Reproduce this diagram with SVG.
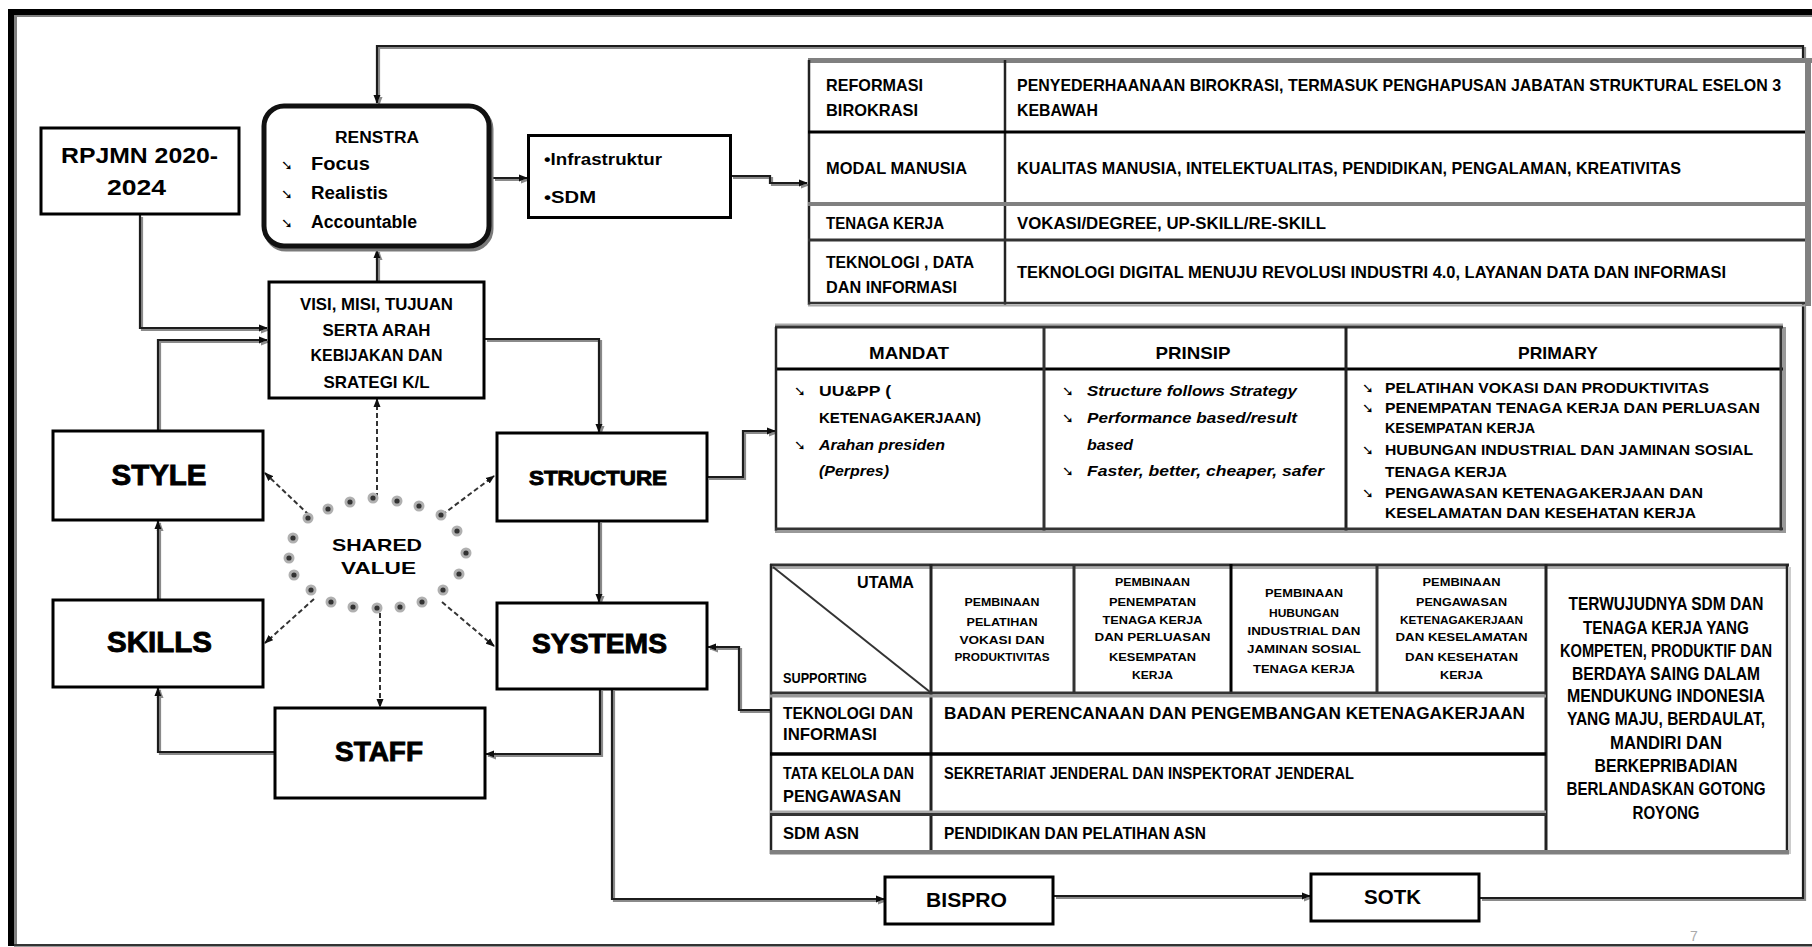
<svg xmlns="http://www.w3.org/2000/svg" xmlns:xlink="http://www.w3.org/1999/xlink" width="1812" height="947" viewBox="0 0 1812 947">
<defs>
<style>
.t{font-family:"Liberation Sans",Arial,sans-serif;font-weight:bold;fill:#000}
.i{font-style:italic}
.m{text-anchor:middle}
.h{stroke:#000;stroke-width:0.9}
.b{font-family:"DejaVu Sans",sans-serif;font-weight:bold;font-size:14px;fill:#000}
.box{fill:#fff;stroke:#000;stroke-width:3}
.ln{fill:none;stroke:#1a1a1a;stroke-width:2.2}
.ds{fill:none;stroke:#333;stroke-width:2;stroke-dasharray:5 3}
.tk{stroke:#222;stroke-width:2.5}
.gr{fill:#808080}
</style>
<marker id="ah" markerWidth="9" markerHeight="8" refX="8" refY="4" orient="auto" markerUnits="userSpaceOnUse"><path d="M0,0.5 L9,4 L0,7.5 z" fill="#111"/></marker>
<filter id="sh" filterUnits="userSpaceOnUse" x="0" y="0" width="1812" height="947"><feOffset in="SourceAlpha" dx="1.5" dy="2" result="o"/><feFlood flood-color="#8a8a8a"/><feComposite in2="o" operator="in" result="s"/><feMerge><feMergeNode in="s"/><feMergeNode in="SourceGraphic"/></feMerge></filter>
<g id="dot"><circle r="5.5" fill="#b0b0b0"/><circle r="2.6" fill="#333"/></g>
</defs>
<rect width="1812" height="947" fill="#fff"/>
<!-- frame -->
<g id="frame">
<rect x="8" y="9" width="1804" height="6" fill="#000"/>
<rect x="14" y="15" width="1798" height="2" fill="#808080"/>
<rect x="8" y="9" width="6" height="937" fill="#000"/>
<rect x="14" y="15" width="3" height="931" fill="#808080"/>
<rect x="14" y="944" width="1798" height="2.5" fill="#333"/>
</g>

<!-- connectors -->
<g id="connectors">
<g filter="url(#sh)">
<path class="ln" d="M140,215 V328 H267" marker-end="url(#ah)"/>
<path class="ln" d="M158,430 V340 H267" marker-end="url(#ah)"/>
<path class="ln" d="M377,282 V250" marker-end="url(#ah)"/>
<path class="ln" d="M485,339 H599 V432" marker-end="url(#ah)"/>
<path class="ln" d="M493,178 H527" marker-end="url(#ah)"/>
<path class="ln" d="M731,176 H770 V183 H807" marker-end="url(#ah)"/>
<path class="ln" d="M1480,898 H1803 V46 H377 V103" marker-end="url(#ah)"/>
<path class="ln" d="M707,477 H743 V431 H775" marker-end="url(#ah)"/>
<path class="ln" d="M599,521 V602" marker-end="url(#ah)"/>
<path class="ln" d="M600,689 V754 H486" marker-end="url(#ah)"/>
<path class="ln" d="M274,752 H158 V688" marker-end="url(#ah)"/>
<path class="ln" d="M158,599 V521" marker-end="url(#ah)"/>
<path class="ln" d="M770,710 H739 V647 H708" marker-end="url(#ah)"/>
<path class="ln" d="M612,689 V899 H884" marker-end="url(#ah)"/>
<path class="ln" d="M1054,896 H1310" marker-end="url(#ah)"/>
</g>
<g>
<path class="ds" d="M377,498 V399" marker-end="url(#ah)"/>
<path class="ds" d="M380,613 V707" marker-end="url(#ah)"/>
<path class="ds" d="M309,515 L265,473" marker-end="url(#ah)"/>
<path class="ds" d="M442,515 L494,476" marker-end="url(#ah)"/>
<path class="ds" d="M314,599 L265,643" marker-end="url(#ah)"/>
<path class="ds" d="M442,602 L494,646" marker-end="url(#ah)"/>
</g>
</g>

<!-- RPJMN -->
<g id="rpjmn">
<rect class="box" x="41" y="128" width="198" height="86"/>
<text class="t m" x="139.5" y="163" font-size="22" textLength="157" lengthAdjust="spacingAndGlyphs">RPJMN 2020-</text>
<text class="t m" x="136.5" y="195" font-size="22" textLength="59" lengthAdjust="spacingAndGlyphs">2024</text>
</g>

<!-- RENSTRA -->
<g id="renstra">
<rect x="266" y="109" width="225" height="140" rx="20" fill="none" stroke="#7a7a7a" stroke-width="5"/>
<rect x="264" y="106" width="225" height="140" rx="20" fill="#fff" stroke="#111" stroke-width="5"/>
<text class="t m" x="377" y="143" font-size="16" textLength="84" lengthAdjust="spacingAndGlyphs">RENSTRA</text>
<text class="b" x="281" y="170">➘</text>
<text class="t" x="311" y="170" font-size="18" textLength="59" lengthAdjust="spacingAndGlyphs">Focus</text>
<text class="b" x="281" y="199">➘</text>
<text class="t" x="311" y="199" font-size="18" textLength="77" lengthAdjust="spacingAndGlyphs">Realistis</text>
<text class="b" x="281" y="228">➘</text>
<text class="t" x="311" y="228" font-size="18" textLength="106" lengthAdjust="spacingAndGlyphs">Accountable</text>
</g>

<!-- Infrastruktur -->
<g id="infra">
<rect class="box" x="528.5" y="135.5" width="202" height="82"/>
<text class="t" x="544" y="165" font-size="16.5" textLength="118" lengthAdjust="spacingAndGlyphs">•Infrastruktur</text>
<text class="t" x="544" y="203" font-size="16.5" textLength="52" lengthAdjust="spacingAndGlyphs">•SDM</text>
</g>

<!-- VISI -->
<g id="visi">
<rect class="box" x="269" y="282" width="215" height="116"/>
<text class="t m" x="376.5" y="309.5" font-size="17" textLength="153" lengthAdjust="spacingAndGlyphs">VISI, MISI, TUJUAN</text>
<text class="t m" x="376.5" y="335.5" font-size="17" textLength="108" lengthAdjust="spacingAndGlyphs">SERTA  ARAH</text>
<text class="t m" x="376.5" y="360.5" font-size="17" textLength="132" lengthAdjust="spacingAndGlyphs">KEBIJAKAN DAN</text>
<text class="t m" x="376.5" y="387.5" font-size="17" textLength="106" lengthAdjust="spacingAndGlyphs">SRATEGI K/L</text>
</g>

<!-- 7S boxes -->
<g id="style">
<rect class="box" x="53" y="431" width="210" height="89"/>
<text class="t m h" x="159" y="485" font-size="29" textLength="95" lengthAdjust="spacingAndGlyphs">STYLE</text>
</g>
<g id="skills">
<rect class="box" x="53" y="600" width="210" height="87"/>
<text class="t m h" x="159.5" y="652" font-size="29" textLength="105" lengthAdjust="spacingAndGlyphs">SKILLS</text>
</g>
<g id="structure">
<rect class="box" x="497" y="433" width="210" height="88"/>
<text class="t m h" x="598" y="485" font-size="20" textLength="138" lengthAdjust="spacingAndGlyphs">STRUCTURE</text>
</g>
<g id="systems">
<rect class="box" x="497" y="603" width="210" height="86"/>
<text class="t m h" x="599.5" y="653" font-size="27" textLength="135" lengthAdjust="spacingAndGlyphs">SYSTEMS</text>
</g>
<g id="staff">
<rect class="box" x="275" y="708" width="210" height="90"/>
<text class="t m h" x="379" y="761" font-size="28" textLength="88" lengthAdjust="spacingAndGlyphs">STAFF</text>
</g>

<!-- Shared value -->
<g id="shared-value">
<use xlink:href="#dot" x="328" y="509"/>
<use xlink:href="#dot" x="350" y="502"/>
<use xlink:href="#dot" x="373" y="498"/>
<use xlink:href="#dot" x="397" y="501"/>
<use xlink:href="#dot" x="419" y="506"/>
<use xlink:href="#dot" x="441" y="515"/>
<use xlink:href="#dot" x="457" y="531"/>
<use xlink:href="#dot" x="466" y="553"/>
<use xlink:href="#dot" x="459" y="574"/>
<use xlink:href="#dot" x="443" y="590"/>
<use xlink:href="#dot" x="422" y="602"/>
<use xlink:href="#dot" x="400" y="607"/>
<use xlink:href="#dot" x="377" y="608"/>
<use xlink:href="#dot" x="353" y="607"/>
<use xlink:href="#dot" x="331" y="602"/>
<use xlink:href="#dot" x="311" y="590"/>
<use xlink:href="#dot" x="294" y="575"/>
<use xlink:href="#dot" x="289" y="558"/>
<use xlink:href="#dot" x="293" y="538"/>
<use xlink:href="#dot" x="308" y="518"/>
<text class="t m" x="377" y="550.5" font-size="17" textLength="90" lengthAdjust="spacingAndGlyphs">SHARED</text>
<text class="t m" x="378.5" y="573.5" font-size="17" textLength="75" lengthAdjust="spacingAndGlyphs">VALUE</text>
</g>

<!-- Table 1 -->
<g id="table1">
<rect x="808" y="60" width="997" height="244" fill="#fff"/>
<rect class="gr" x="808" y="58" width="1004" height="5"/>
<rect class="gr" x="1805" y="58" width="6" height="248"/>
<line class="tk" x1="809" y1="60" x2="809" y2="305"/>
<line class="tk" x1="1005" y1="60" x2="1005" y2="305"/>
<line x1="808" y1="132" x2="1805" y2="132" stroke="#000" stroke-width="3"/>
<rect class="gr" x="808" y="202" width="997" height="4"/>
<line x1="808" y1="240" x2="1805" y2="240" stroke="#333" stroke-width="3"/>
<line x1="808" y1="303" x2="1805" y2="303" stroke="#333" stroke-width="2.5"/>
<rect x="808" y="304.5" width="997" height="2" fill="#aaa"/>
<g font-size="16.5">
<text class="t" x="826" y="91" textLength="97" lengthAdjust="spacingAndGlyphs">REFORMASI</text>
<text class="t" x="826" y="116" textLength="92" lengthAdjust="spacingAndGlyphs">BIROKRASI</text>
<text class="t" x="1017" y="91" textLength="764" lengthAdjust="spacingAndGlyphs">PENYEDERHAANAAN BIROKRASI, TERMASUK PENGHAPUSAN JABATAN STRUKTURAL ESELON  3</text>
<text class="t" x="1017" y="116" textLength="81" lengthAdjust="spacingAndGlyphs">KEBAWAH</text>
<text class="t" x="826" y="174" textLength="141" lengthAdjust="spacingAndGlyphs">MODAL MANUSIA</text>
<text class="t" x="1017" y="174" textLength="664" lengthAdjust="spacingAndGlyphs">KUALITAS MANUSIA, INTELEKTUALITAS, PENDIDIKAN, PENGALAMAN, KREATIVITAS</text>
<text class="t" x="826" y="229" textLength="118" lengthAdjust="spacingAndGlyphs">TENAGA KERJA</text>
<text class="t" x="1017" y="229" textLength="309" lengthAdjust="spacingAndGlyphs">VOKASI/DEGREE,  UP-SKILL/RE-SKILL</text>
<text class="t" x="826" y="268" textLength="148" lengthAdjust="spacingAndGlyphs">TEKNOLOGI  , DATA</text>
<text class="t" x="826" y="293" textLength="131" lengthAdjust="spacingAndGlyphs">DAN INFORMASI</text>
<text class="t" x="1017" y="278" textLength="709" lengthAdjust="spacingAndGlyphs">TEKNOLOGI DIGITAL MENUJU  REVOLUSI INDUSTRI 4.0,  LAYANAN DATA DAN  INFORMASI</text>
</g>
</g>

<!-- Table 2 -->
<g id="table2">
<rect x="776" y="327" width="1005" height="202" fill="#fff"/>
<rect x="775" y="323.5" width="1008" height="2" fill="#aaa"/>
<line x1="775" y1="327" x2="1783" y2="327" stroke="#333" stroke-width="3"/>
<line x1="775" y1="369" x2="1783" y2="369" stroke="#000" stroke-width="3"/>
<line class="tk" x1="776" y1="327" x2="776" y2="531"/>
<line x1="1044" y1="327" x2="1044" y2="531" stroke="#333" stroke-width="3"/>
<line x1="1346" y1="327" x2="1346" y2="531" stroke="#222" stroke-width="3"/>
<line x1="1781" y1="327" x2="1781" y2="531" stroke="#333" stroke-width="3"/>
<rect x="1783" y="327" width="3" height="206" fill="#999"/>
<line x1="775" y1="529" x2="1783" y2="529" stroke="#333" stroke-width="3"/>
<rect x="775" y="530.5" width="1011" height="2.5" fill="#999"/>
<text class="t m" x="909" y="358.5" font-size="17" textLength="80" lengthAdjust="spacingAndGlyphs">MANDAT</text>
<text class="t m" x="1193" y="358.5" font-size="17" textLength="75" lengthAdjust="spacingAndGlyphs">PRINSIP</text>
<text class="t m" x="1558" y="358.5" font-size="17" textLength="80" lengthAdjust="spacingAndGlyphs">PRIMARY</text>
<g font-size="15">
<text class="b" x="794" y="396">➘</text>
<text class="t" x="819" y="395.5" textLength="72" lengthAdjust="spacingAndGlyphs">UU&amp;PP (</text>
<text class="t" x="819" y="422.5" textLength="162" lengthAdjust="spacingAndGlyphs">KETENAGAKERJAAN)</text>
<text class="b" x="794" y="450">➘</text>
<text class="t i" x="819" y="449.5" textLength="126" lengthAdjust="spacingAndGlyphs">Arahan  presiden</text>
<text class="t i" x="819" y="475.5" textLength="70" lengthAdjust="spacingAndGlyphs">(Perpres)</text>
<text class="b" x="1062" y="396">➘</text>
<text class="t i" x="1087" y="395.5" textLength="210" lengthAdjust="spacingAndGlyphs">Structure  follows  Strategy</text>
<text class="b" x="1062" y="423">➘</text>
<text class="t i" x="1087" y="422.5" textLength="210" lengthAdjust="spacingAndGlyphs">Performance  based/result</text>
<text class="t i" x="1087" y="449.5" textLength="46" lengthAdjust="spacingAndGlyphs">based</text>
<text class="b" x="1062" y="476">➘</text>
<text class="t i" x="1087" y="475.5" textLength="237" lengthAdjust="spacingAndGlyphs">Faster,  better,  cheaper,  safer</text>
</g>
<g font-size="14">
<text class="b" x="1362" y="393" font-size="12">➘</text>
<text class="t" x="1385" y="393" textLength="324" lengthAdjust="spacingAndGlyphs">PELATIHAN VOKASI DAN PRODUKTIVITAS</text>
<text class="b" x="1362" y="413" font-size="12">➘</text>
<text class="t" x="1385" y="413" textLength="375" lengthAdjust="spacingAndGlyphs">PENEMPATAN TENAGA KERJA DAN PERLUASAN</text>
<text class="t" x="1385" y="433" textLength="150" lengthAdjust="spacingAndGlyphs">KESEMPATAN KERJA</text>
<text class="b" x="1362" y="455" font-size="12">➘</text>
<text class="t" x="1385" y="455" textLength="368" lengthAdjust="spacingAndGlyphs">HUBUNGAN INDUSTRIAL DAN JAMINAN SOSIAL</text>
<text class="t" x="1385" y="477" textLength="122" lengthAdjust="spacingAndGlyphs">TENAGA KERJA</text>
<text class="b" x="1362" y="498" font-size="12">➘</text>
<text class="t" x="1385" y="498" textLength="318" lengthAdjust="spacingAndGlyphs">PENGAWASAN KETENAGAKERJAAN DAN</text>
<text class="t" x="1385" y="518" textLength="311" lengthAdjust="spacingAndGlyphs">KESELAMATAN DAN KESEHATAN KERJA</text>
</g>
</g>

<!-- Table 3 -->
<g id="table3">
<rect x="771" y="565" width="1016" height="286" fill="#fff"/>
<line x1="770" y1="565" x2="1789" y2="565" stroke="#333" stroke-width="3"/>
<rect x="770" y="567" width="1017" height="2" fill="#aaa"/>
<line class="tk" x1="771" y1="564" x2="771" y2="854"/>
<line x1="931" y1="564" x2="931" y2="852" stroke="#222" stroke-width="3"/>
<line x1="1074" y1="564" x2="1074" y2="694" stroke="#333" stroke-width="3"/>
<line x1="1231" y1="564" x2="1231" y2="694" stroke="#000" stroke-width="3"/>
<line x1="1377" y1="564" x2="1377" y2="694" stroke="#333" stroke-width="3"/>
<line x1="1546" y1="564" x2="1546" y2="852" stroke="#222" stroke-width="3"/>
<line x1="1787" y1="564" x2="1787" y2="852" stroke="#222" stroke-width="2.5"/>
<rect x="1789" y="567" width="2" height="287" fill="#ccc"/>
<line x1="770" y1="693" x2="1546" y2="693" stroke="#333" stroke-width="3"/>
<rect x="770" y="694.5" width="776" height="3" fill="#999"/>
<line x1="770" y1="754" x2="1546" y2="754" stroke="#000" stroke-width="3.5"/>
<rect x="770" y="810.5" width="776" height="2.5" fill="#aaa"/>
<line x1="770" y1="814.5" x2="1546" y2="814.5" stroke="#333" stroke-width="3"/>
<rect class="gr" x="770" y="850" width="1019" height="4.5"/>
<line x1="773" y1="567" x2="930" y2="692" stroke="#333" stroke-width="2"/>
<text class="t" x="857" y="588" font-size="16" textLength="57" lengthAdjust="spacingAndGlyphs">UTAMA</text>
<text class="t" x="783" y="683" font-size="15" textLength="84" lengthAdjust="spacingAndGlyphs">SUPPORTING</text>
<g font-size="10">
<text class="t m" x="1002" y="605.5" textLength="75" lengthAdjust="spacingAndGlyphs">PEMBINAAN</text>
<text class="t m" x="1002" y="625.5" textLength="71" lengthAdjust="spacingAndGlyphs">PELATIHAN</text>
<text class="t m" x="1002" y="643.5" textLength="85" lengthAdjust="spacingAndGlyphs">VOKASI  DAN</text>
<text class="t m" x="1002" y="660.5" textLength="95" lengthAdjust="spacingAndGlyphs">PRODUKTIVITAS</text>
<text class="t m" x="1152.5" y="585.5" textLength="75" lengthAdjust="spacingAndGlyphs">PEMBINAAN</text>
<text class="t m" x="1152.5" y="605.5" textLength="87" lengthAdjust="spacingAndGlyphs">PENEMPATAN</text>
<text class="t m" x="1152.5" y="623.5" textLength="100" lengthAdjust="spacingAndGlyphs">TENAGA   KERJA</text>
<text class="t m" x="1152.5" y="640.5" textLength="116" lengthAdjust="spacingAndGlyphs">DAN   PERLUASAN</text>
<text class="t m" x="1152.5" y="660.5" textLength="87" lengthAdjust="spacingAndGlyphs">KESEMPATAN</text>
<text class="t m" x="1152.5" y="678.5" textLength="41" lengthAdjust="spacingAndGlyphs">KERJA</text>
<text class="t m" x="1304" y="596.5" textLength="78" lengthAdjust="spacingAndGlyphs">PEMBINAAN</text>
<text class="t m" x="1304" y="616.5" textLength="70" lengthAdjust="spacingAndGlyphs">HUBUNGAN</text>
<text class="t m" x="1304" y="634.5" textLength="113" lengthAdjust="spacingAndGlyphs">INDUSTRIAL    DAN</text>
<text class="t m" x="1304" y="652.5" textLength="114" lengthAdjust="spacingAndGlyphs">JAMINAN    SOSIAL</text>
<text class="t m" x="1304" y="672.5" textLength="102" lengthAdjust="spacingAndGlyphs">TENAGA    KERJA</text>
<text class="t m" x="1461.5" y="585.5" textLength="78" lengthAdjust="spacingAndGlyphs">PEMBINAAN</text>
<text class="t m" x="1461.5" y="605.5" textLength="91" lengthAdjust="spacingAndGlyphs">PENGAWASAN</text>
<text class="t m" x="1461.5" y="623.5" textLength="123" lengthAdjust="spacingAndGlyphs">KETENAGAKERJAAN</text>
<text class="t m" x="1461.5" y="640.5" textLength="132" lengthAdjust="spacingAndGlyphs">DAN   KESELAMATAN</text>
<text class="t m" x="1461.5" y="660.5" textLength="113" lengthAdjust="spacingAndGlyphs">DAN   KESEHATAN</text>
<text class="t m" x="1461.5" y="678.5" textLength="43" lengthAdjust="spacingAndGlyphs">KERJA</text>
</g>
<g font-size="16.5">
<text class="t" x="783" y="718.5" textLength="130" lengthAdjust="spacingAndGlyphs">TEKNOLOGI DAN</text>
<text class="t" x="783" y="739.5" textLength="94" lengthAdjust="spacingAndGlyphs">INFORMASI</text>
<text class="t" x="944" y="718.5" textLength="581" lengthAdjust="spacingAndGlyphs">BADAN  PERENCANAAN DAN PENGEMBANGAN  KETENAGAKERJAAN</text>
<text class="t" x="783" y="778.5" textLength="131" lengthAdjust="spacingAndGlyphs">TATA KELOLA DAN</text>
<text class="t" x="783" y="801.5" textLength="118" lengthAdjust="spacingAndGlyphs">PENGAWASAN</text>
<text class="t" x="944" y="778.5" textLength="410" lengthAdjust="spacingAndGlyphs">SEKRETARIAT JENDERAL DAN INSPEKTORAT JENDERAL</text>
<text class="t" x="783" y="839" textLength="76" lengthAdjust="spacingAndGlyphs">SDM ASN</text>
<text class="t" x="944" y="839" textLength="262" lengthAdjust="spacingAndGlyphs">PENDIDIKAN DAN PELATIHAN ASN</text>
</g>
<g font-size="17.5">
<text class="t m" x="1666" y="610" textLength="195" lengthAdjust="spacingAndGlyphs">TERWUJUDNYA SDM DAN</text>
<text class="t m" x="1666" y="634" textLength="166" lengthAdjust="spacingAndGlyphs">TENAGA KERJA YANG</text>
<text class="t m" x="1666" y="657" textLength="212" lengthAdjust="spacingAndGlyphs">KOMPETEN, PRODUKTIF DAN</text>
<text class="t m" x="1666" y="680" textLength="188" lengthAdjust="spacingAndGlyphs">BERDAYA SAING DALAM</text>
<text class="t m" x="1666" y="702" textLength="198" lengthAdjust="spacingAndGlyphs">MENDUKUNG INDONESIA</text>
<text class="t m" x="1666" y="725" textLength="198" lengthAdjust="spacingAndGlyphs">YANG MAJU, BERDAULAT,</text>
<text class="t m" x="1666" y="749" textLength="112" lengthAdjust="spacingAndGlyphs">MANDIRI DAN</text>
<text class="t m" x="1666" y="772" textLength="143" lengthAdjust="spacingAndGlyphs">BERKEPRIBADIAN</text>
<text class="t m" x="1666" y="795" textLength="199" lengthAdjust="spacingAndGlyphs">BERLANDASKAN GOTONG</text>
<text class="t m" x="1666" y="819" textLength="67" lengthAdjust="spacingAndGlyphs">ROYONG</text>
</g>
</g>

<!-- BISPRO / SOTK -->
<g id="bispro">
<rect class="box" x="885" y="877" width="168" height="47"/>
<text class="t m" x="966.5" y="907" font-size="21" textLength="81" lengthAdjust="spacingAndGlyphs">BISPRO</text>
</g>
<g id="sotk">
<rect class="box" x="1311" y="874" width="168" height="47"/>
<text class="t m" x="1392.5" y="904" font-size="21" textLength="57" lengthAdjust="spacingAndGlyphs">SOTK</text>
</g>

<text x="1690" y="941" font-family="Liberation Sans, Arial, sans-serif" font-size="14" fill="#aaa">7</text>
</svg>
